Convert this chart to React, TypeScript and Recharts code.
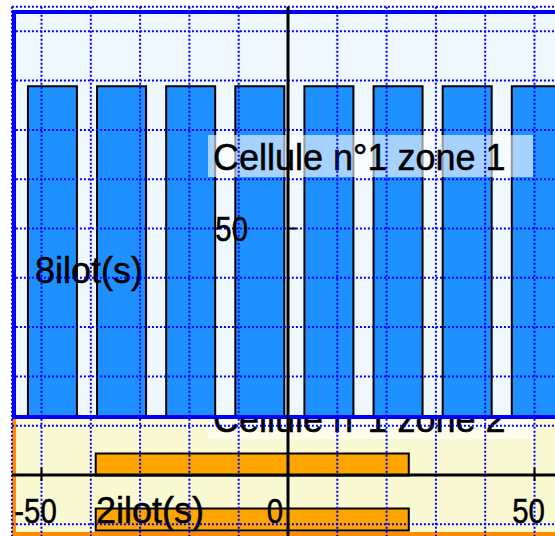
import React from "react";
import {
  BarChart,
  Bar,
  XAxis,
  YAxis,
  ComposedChart,
  CartesianGrid,
  ReferenceLine,
} from "recharts";

// zone 1 : one vertical bar per ilot
const ilots = ["1", "2", "3", "4", "5", "6", "7", "8"];
const zone1Values = [82, 82, 82, 82, 82, 82, 82, 82];

// zone 2 : horizontal range bars
const zone2Rows = ["1", "2"];
const zone2Start = [-39, -39];
const zone2End = [24.5, 24.5];

const xTickValues = [-50, 0, 50];
const yTickValues = [50];
const gridXValues = [-50, -40, -30, -20, -10, 0, 10, 20, 30, 40, 50, 60];
const gridYValues = [-10, 0, 10, 20, 30, 40, 50, 60, 70, 80, 90];

const zone1Title = "Cellule n°1 zone 1";
const zone2Title = "Cellule n°1 zone 2";
const zone1Count = "8ilot(s)";
const zone2Count = "2ilot(s)";

// layout
const W = 600;
const UNIT = 4.93; // px per unit on the main axes
const X0 = 288; // px of x = 0
const Y0 = 475; // px of y = 0
const X_DOMAIN: [number, number] = [-56, 60];
const Y_DOMAIN: [number, number] = [-13, 95];
const OVERLAY_H = 545;
const AXIS_SIZE = 1; // labelled axes need a non-zero size to render
const overlayMargin = {
  left: X0 + X_DOMAIN[0] * UNIT - AXIS_SIZE,
  right: W - (X0 + X_DOMAIN[1] * UNIT),
  top: Y0 - Y_DOMAIN[1] * UNIT,
  bottom: OVERLAY_H - (Y0 - Y_DOMAIN[0] * UNIT) - AXIS_SIZE,
};

const FONT = '"Liberation Sans", Arial, sans-serif';
const FONT_SIZE = 36;
const TICK_SQUEEZE = 0.84; // tick labels use a narrow face

const layer: React.CSSProperties = { position: "absolute", left: 0, top: 0 };

const textStyle = {
  fontFamily: FONT,
  fontSize: FONT_SIZE,
  fill: "#000",
  stroke: "#000",
  strokeWidth: 0.5,
};

function XTick(props: any) {
  const { x, payload } = props;
  const v = payload.value;
  const tx = x + (v === 0 ? -13 : -6);
  return (
    <g>
      <line x1={x} x2={x} y1={Y0 - 7} y2={Y0 + 6} stroke="#000" strokeWidth={2} />
      <g transform={`translate(${tx},523) scale(${TICK_SQUEEZE},1)`}>
        <text x={0} y={0} textAnchor="middle" {...textStyle} fontSize={35}>
          {v}
        </text>
      </g>
    </g>
  );
}

function YTick(props: any) {
  const { y, payload } = props;
  return (
    <g>
      <line x1={X0} x2={X0 + 8} y1={y} y2={y} stroke="#000" strokeWidth={2} />
      <g transform={`translate(${X0 - 40},${y}) scale(${TICK_SQUEEZE},1)`}>
        <text x={0} y={0} dy="0.36em" textAnchor="end" {...textStyle} fontSize={35}>
          {payload.value}
        </text>
      </g>
    </g>
  );
}

function TitleBox({ y, text }: { y: number; text: string }) {
  return (
    <g>
      <rect x={208} y={y} width={325} height={42} fill="#fff" fillOpacity={0.6} />
      <text x={213} y={y + 35} {...textStyle}>
        {text}
      </text>
    </g>
  );
}

function TextLayer({ children }: { children: React.ReactNode }) {
  return (
    <svg width={555} height={536} style={layer}>
      {children}
    </svg>
  );
}

export default function App() {
  const zone1Data = ilots.map((name, i) => ({ name, value: zone1Values[i] }));
  const zone2Data = zone2Rows.map((row, i) => ({
    row,
    range: [zone2Start[i], zone2End[i]],
  }));
  const axisData = xTickValues.map((x) => ({ x }));

  return (
    <div
      style={{
        position: "absolute",
        left: 0,
        top: 0,
        width: 555,
        height: 536,
        overflow: "hidden",
        background: "#fff",
      }}
    >
      {/* zone 2 panel */}
      <div
        style={{
          position: "absolute",
          left: 12,
          top: 395,
          width: 620,
          height: 141,
          background: "#FAFAD2",
          borderLeft: "4px solid #FF8C00",
          borderBottom: "4px solid #FF8C00",
          boxSizing: "border-box",
        }}
      />
      <div style={layer}>
        <BarChart
          layout="vertical"
          width={W}
          height={560}
          data={zone2Data}
          margin={{ top: 436.5, right: overlayMargin.right, bottom: 13.5, left: X0 + X_DOMAIN[0] * UNIT }}
        >
          <XAxis type="number" domain={X_DOMAIN} hide allowDataOverflow />
          <YAxis type="category" dataKey="row" hide />
          <Bar
            dataKey="range"
            fill="#FFA500"
            stroke="#000"
            strokeWidth={2}
            barSize={22}
            isAnimationActive={false}
          />
        </BarChart>
      </div>
      <TextLayer>
        <TitleBox y={397} text={zone2Title} />
        <text x={96} y={523} {...textStyle}>
          {zone2Count}
        </text>
      </TextLayer>

      {/* zone 1 panel */}
      <div
        style={{
          position: "absolute",
          left: 12,
          top: 10,
          width: 620,
          height: 409,
          background: "#F0F8FF",
        }}
      />
      <div style={layer}>
        <BarChart
          width={W}
          height={430}
          data={zone1Data}
          margin={{ top: 14, right: 29.07, bottom: 14, left: 17.93 }}
        >
          <XAxis dataKey="name" hide />
          <YAxis domain={[0, 100]} hide />
          <Bar
            dataKey="value"
            fill="#1E90FF"
            stroke="#000"
            strokeWidth={2}
            barSize={49}
            isAnimationActive={false}
          />
        </BarChart>
      </div>
      <TextLayer>
        <TitleBox y={135} text={zone1Title} />
        <text x={35} y={283} {...textStyle}>
          {zone1Count}
        </text>
      </TextLayer>
      <div
        style={{
          position: "absolute",
          left: 12,
          top: 10,
          width: 620,
          height: 409,
          border: "4px solid #0000FF",
          boxSizing: "border-box",
        }}
      />

      {/* grid and axes on top */}
      <div style={layer}>
        <ComposedChart width={W} height={OVERLAY_H} data={axisData} margin={overlayMargin}>
          <XAxis xAxisId="grid" type="number" dataKey="x" domain={X_DOMAIN} ticks={gridXValues} hide allowDataOverflow />
          <YAxis yAxisId="grid" type="number" domain={Y_DOMAIN} ticks={gridYValues} hide allowDataOverflow />
          <XAxis
            xAxisId="lab"
            type="number"
            dataKey="x"
            domain={X_DOMAIN}
            ticks={xTickValues}
            interval={0}
            height={AXIS_SIZE}
            axisLine={false}
            tickLine={false}
            tickSize={0}
            tickMargin={0}
            tick={XTick}
            allowDataOverflow
          />
          <YAxis
            yAxisId="lab"
            type="number"
            domain={Y_DOMAIN}
            ticks={yTickValues}
            interval={0}
            width={AXIS_SIZE}
            axisLine={false}
            tickLine={false}
            tickSize={0}
            tickMargin={0}
            tick={YTick}
            allowDataOverflow
          />
          <CartesianGrid
            xAxisId="grid"
            yAxisId="grid"
            stroke="#0000FF"
            strokeWidth={2}
            strokeDasharray="2 2"
            fill="none"
          />
          <ReferenceLine xAxisId="grid" yAxisId="grid" y={0} stroke="#000" strokeWidth={3} />
          <ReferenceLine xAxisId="grid" yAxisId="grid" x={0} stroke="#000" strokeWidth={3} />
        </ComposedChart>
      </div>
    </div>
  );
}
